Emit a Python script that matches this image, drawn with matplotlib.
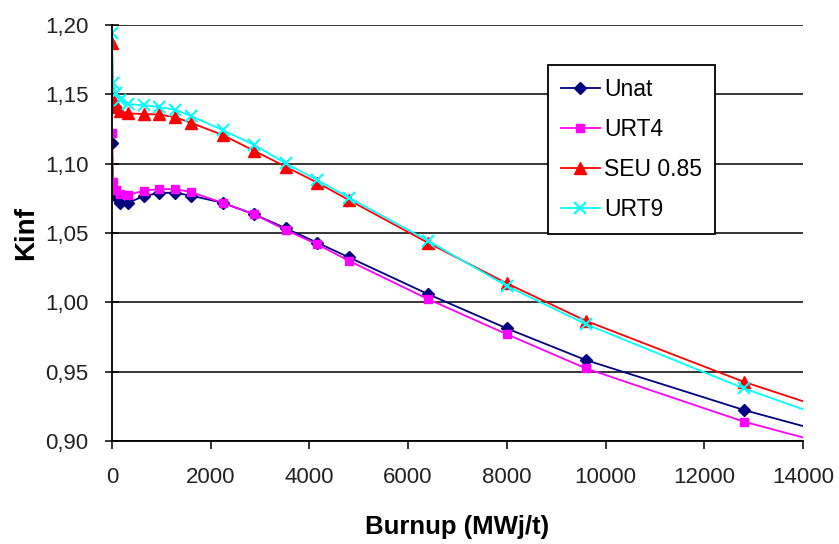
import matplotlib
matplotlib.use('Agg')
import matplotlib.pyplot as plt
from matplotlib.ticker import FuncFormatter

plt.rcParams['font.family'] = ['Liberation Sans', 'DejaVu Sans']

# burnup steps (MWj/t); last value is where the curves leave the plot (no marker)
burnup = [0, 20, 80, 160, 320, 640, 960, 1280, 1600, 2240, 2880, 3520,
          4160, 4800, 6400, 8000, 9600, 12800, 14000]

unat = [1.115, 1.081, 1.076, 1.0714, 1.0718, 1.0765, 1.079, 1.079, 1.077,
        1.0718, 1.0635, 1.0534, 1.043, 1.0325, 1.006, 0.9812, 0.9584, 0.9224, 0.9108]
urt4 = [1.122, 1.087, 1.081, 1.0785, 1.0774, 1.0805, 1.0817, 1.0817, 1.0795,
        1.0718, 1.0635, 1.0522, 1.0418, 1.030, 1.0024, 0.977, 0.9524, 0.914, 0.9026]
seu = [1.187, 1.147, 1.141, 1.138, 1.1363, 1.1358, 1.1355, 1.1335, 1.1295,
       1.1207, 1.1093, 1.0978, 1.0863, 1.0738, 1.043, 1.0137, 0.9867, 0.9427, 0.9287]
urt9 = [1.194, 1.158, 1.151, 1.146, 1.143, 1.1422, 1.1408, 1.139, 1.1344,
        1.1243, 1.1135, 1.1002, 1.0882, 1.0755, 1.0445, 1.0118, 0.9843, 0.938, 0.9229]

series = [
    ('Unat', unat, '#000080', 'D', 6),
    ('URT4', urt4, '#FF00FF', 's', 6),
    ('SEU 0.85', seu, '#FF0000', '^', 8),
    ('URT9', urt9, '#00FFFF', 'x', 8),
]

fig = plt.figure(figsize=(8.39, 5.44), dpi=100)
ax = fig.add_axes([0.1335, 0.1893, 0.8235, 0.7647])

marks = list(range(len(burnup) - 1))
for name, vals, col, mk, ms in series:
    ax.plot(burnup, vals, color=col, lw=1.3, marker=mk, ms=ms,
            markevery=marks, mew=1.5 if mk == 'x' else 1, label=name)

ax.set_xlim(0, 14000)
ax.set_ylim(0.90, 1.20)
ax.set_xticks(range(0, 14001, 2000))
ax.set_yticks([0.90, 0.95, 1.00, 1.05, 1.10, 1.15, 1.20])
ax.yaxis.set_major_formatter(FuncFormatter(lambda v, p: '{:.2f}'.format(v).replace('.', ',')))

ax.spines['top'].set_visible(False)
ax.spines['right'].set_visible(False)
ax.spines['left'].set_linewidth(1.3)
ax.spines['bottom'].set_linewidth(1.3)
ax.yaxis.grid(True, color='black', lw=1.1)
ax.set_axisbelow(True)

ax.tick_params(axis='y', direction='inout', length=10, width=1.1, labelsize=16,
               labelcolor='#222222', pad=12)
ax.tick_params(axis='x', direction='out', length=6, width=1.1, labelsize=16,
               labelcolor='#222222', pad=13)

ax.set_xlabel('Burnup (MWj/t)', fontsize=18.5, fontweight='bold', labelpad=19)
ax.set_ylabel('Kinf', fontsize=20, fontweight='bold', labelpad=4)

leg = ax.legend(loc='upper left', bbox_to_anchor=(0.631, 0.904), fontsize=16.5,
                frameon=True, fancybox=False, edgecolor='black', framealpha=1,
                handlelength=1.7, labelspacing=0.75, borderpad=0.55,
                handletextpad=0.2, borderaxespad=0)
leg.get_frame().set_linewidth(1.3)

fig.savefig('out.png', dpi=100)
